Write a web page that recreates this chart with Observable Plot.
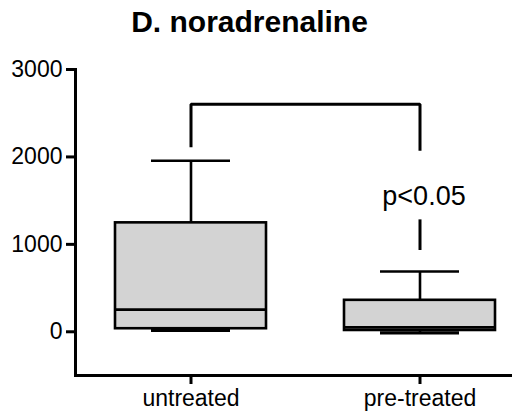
<!DOCTYPE html>
<html>
<head>
<meta charset="utf-8">
<script src="https://cdn.jsdelivr.net/npm/d3@7"></script>
<script src="https://cdn.jsdelivr.net/npm/@observablehq/plot@0.6"></script>
<style>
  html, body { margin: 0; padding: 0; background: #fff; }
  #title { font: bold 30px "Liberation Sans", Arial, sans-serif; line-height: 44px; height: 44px; text-align: center; padding-right: 13px; width: 499px; color: #000; white-space: nowrap; }
  svg { display: block; overflow: visible; }
</style>
</head>
<body>
<div id="title">D. noradrenaline</div>
<div id="chart"></div>
<script>
// Categories and box-plot summary values
const groups = ["untreated", "pre-treated"];
const minVals = [15, -12];
const q1Vals = [35, 15];
const medianVals = [254, 50];
const q3Vals = [1246, 360];
const maxVals = [1957, 690];

// Significance bracket
const bracketGroups = ["untreated", "untreated", "pre-treated", "pre-treated"];
const bracketValues = [2110, 2603, 2603, 2070];
const pLabel = ["p<0.05"];
const pLabelGroup = ["pre-treated"];
const pLabelValue = [1554];
const pSegGroup = ["pre-treated"];
const pSegFrom = [930];
const pSegTo = [1280];

const yTicks = [0, 1000, 2000, 3000];

const stats = groups.map((g, i) => ({
  group: g, min: minVals[i], q1: q1Vals[i], median: medianVals[i], q3: q3Vals[i], max: maxVals[i]
}));
const bracket = bracketGroups.map((g, i) => ({group: g, value: bracketValues[i]}));
const pText = pLabel.map((t, i) => ({group: pLabelGroup[i], value: pLabelValue[i], text: t}));
const pSeg = pSegGroup.map((g, i) => ({group: g, y1: pSegFrom[i], y2: pSegTo[i]}));

const sw = 2.6;
const chart = Plot.plot({
  width: 512,
  height: 370,
  marginTop: 25,
  marginBottom: 39,
  marginLeft: 75,
  marginRight: 0,
  style: {fontFamily: '"Liberation Sans", Arial, sans-serif', fontSize: "22px", color: "#000", background: "#fff"},
  x: {type: "band", domain: groups, range: [114, 495.2], paddingInner: 0.34, paddingOuter: 0, align: 0.5, label: null},
  y: {domain: [-500, 3000], label: null},
  marks: [
    Plot.frame({anchor: "left", strokeWidth: 3, stroke: "#000"}),
    Plot.frame({anchor: "bottom", strokeWidth: 3, stroke: "#000"}),
    Plot.axisY({ticks: yTicks, tickSize: 9, tickPadding: 4, strokeWidth: 3, fontSize: 23, tickFormat: d => String(d)}),
    Plot.axisX({tickSize: 9, tickPadding: 5, strokeWidth: 3, fontSize: 23}),
    // whiskers
    Plot.ruleX(stats, {x: "group", y1: "q3", y2: "max", stroke: "#000", strokeWidth: sw}),
    Plot.ruleX(stats, {x: "group", y1: "min", y2: "q1", stroke: "#000", strokeWidth: sw}),
    Plot.tickY(stats, {x: "group", y: "max", stroke: "#000", strokeWidth: sw, insetLeft: 36, insetRight: 36}),
    Plot.tickY(stats, {x: "group", y: "min", stroke: "#000", strokeWidth: 3.2, insetLeft: 36, insetRight: 36}),
    // boxes
    Plot.barY(stats, {x: "group", y1: "q1", y2: "q3", fill: "#d3d3d3", stroke: "#000", strokeWidth: sw}),
    Plot.tickY(stats, {x: "group", y: "median", stroke: "#000", strokeWidth: sw}),
    // bracket
    Plot.line(bracket, {x: "group", y: "value", stroke: "#000", strokeWidth: 3, strokeLinecap: "butt", strokeLinejoin: "miter"}),
    Plot.ruleX(pSeg, {x: "group", y1: "y1", y2: "y2", stroke: "#000", strokeWidth: 3}),
    Plot.text(pText, {x: "group", y: "value", text: "text", fontSize: 27, dx: 4, fill: "#000"})
  ]
});
document.getElementById("chart").appendChild(chart);
</script>
</body>
</html>
